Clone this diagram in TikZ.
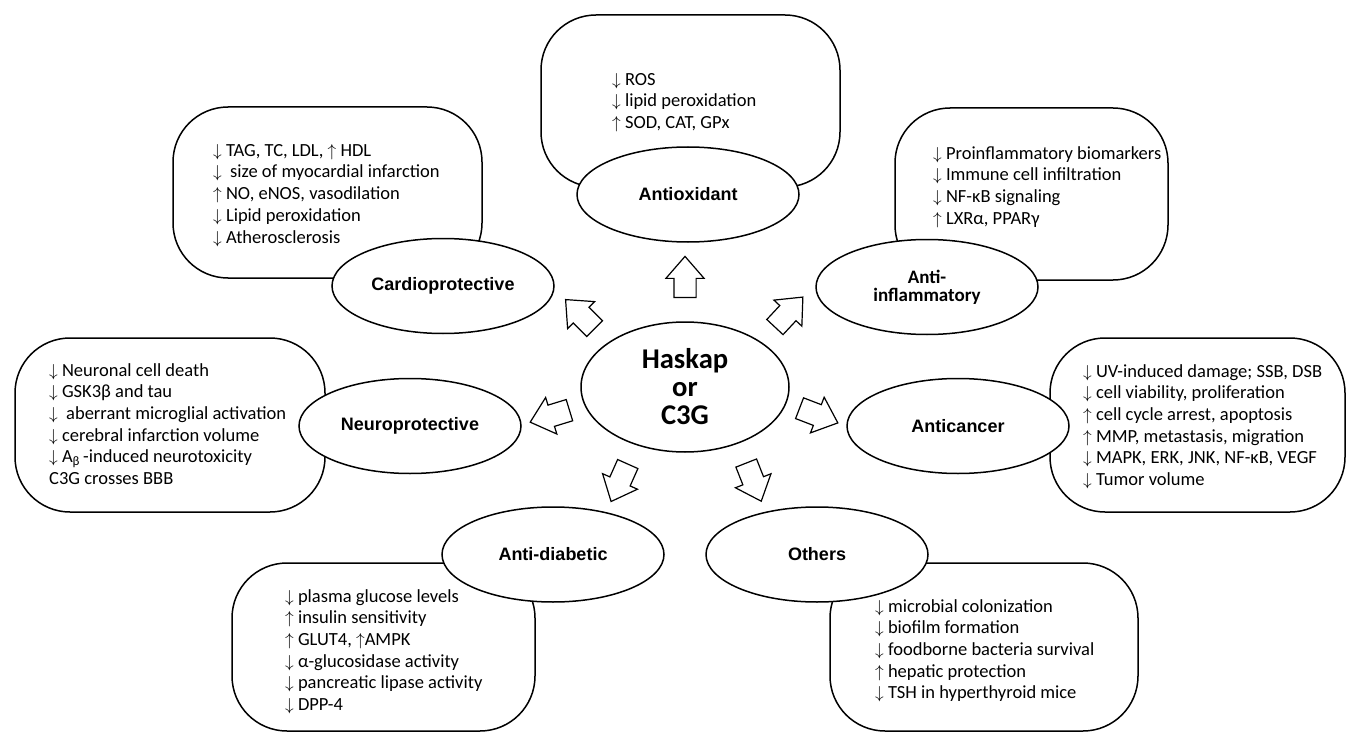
\documentclass[tikz,border=0pt]{standalone}
\usepackage{fontspec}
\setmainfont{Carlito}
\newfontfamily\labelfont{Liberation Sans}
\usetikzlibrary{shapes.geometric,shapes.arrows}
\newcommand\dn{$\downarrow$}
\newcommand\upa{$\uparrow$}
\begin{document}
\begin{tikzpicture}[x=1pt,y=-1pt,
 boxstyle/.style={draw, line width=1.5pt, rounded corners=55pt, inner sep=0pt},
 ellstyle/.style={ellipse, draw, fill=white, line width=1.5pt, inner sep=0pt, minimum width=222pt, minimum height=95pt, font=\labelfont\bfseries\fontsize{18}{20}\selectfont, align=center},
 txtstyle/.style={align=left, anchor=north west, inner sep=0pt, font=\fontsize{18.5}{21.7}\selectfont},
 barrow/.style={single arrow, draw, line width=1.2pt, fill=white, minimum height=41pt, minimum width=37pt, single arrow head extend=8pt, single arrow tip angle=82, inner xsep=0pt, inner ysep=10.5pt, anchor=tail}]
\useasboundingbox (0,0) rectangle (1347,733);
% boxes
\node[boxstyle, minimum width=309pt, minimum height=171pt] (cardiobox) at (327.5,192.5) {};
\node[boxstyle, minimum width=299pt, minimum height=172pt] (antioxbox) at (690.5,101) {};
\node[boxstyle, minimum width=273pt, minimum height=172pt] (inflambox) at (1031.5,194) {};
\node[boxstyle, minimum width=310pt, minimum height=174pt] (neurobox) at (170,425) {};
\node[boxstyle, minimum width=295pt, minimum height=174pt] (cancerbox) at (1197.5,425) {};
\node[boxstyle, minimum width=303pt, minimum height=168pt] (diabbox) at (383.5,647) {};
\node[boxstyle, minimum width=308pt, minimum height=168pt] (othersbox) at (984,647) {};
% ellipses
\node[ellstyle] (cardio) at (443,286) {Cardioprotective};
\node[ellstyle] (antiox) at (688,194.5) {Antioxidant};
\node[ellstyle, font=\bfseries\fontsize{19}{18}\selectfont] (inflam) at (927,287) {Anti-\\inflammatory};
\node[ellstyle] (neuro) at (410,426) {Neuroprotective};
\node[ellstyle] (cancer) at (958,426) {Anticancer};
\node[ellstyle] (diab) at (553,554.5) {Anti-diabetic};
\node[ellstyle] (others) at (817,554.5) {Others};
\node[ellstyle, minimum width=208pt, minimum height=130pt, font=\bfseries\fontsize{28.6}{28}\selectfont] (haskap) at (685,387) {Haskap\\or\\C3G};
% arrows
\node[barrow, rotate=90] (a1) at (685,298) {};
\node[barrow, rotate=135] (a2) at (595,329) {};
\node[barrow, rotate=47] (a3) at (774.5,327.5) {};
\node[barrow, rotate=197] (a4) at (570,410) {};
\node[barrow, rotate=-21] (a5) at (799,408) {};
\node[barrow, rotate=-114] (a6) at (628,463.5) {};
\node[barrow, rotate=-68.5] (a7) at (746,462.5) {};
% texts
\node[txtstyle] (cardiotxt) at (213,144) {\dn{} TAG, TC, LDL, \upa{} HDL\\ \dn\ \ size of myocardial infarction\\ \upa{} NO, eNOS, vasodilation\\ \dn{} Lipid peroxidation\\ \dn{} Atherosclerosis};
\node[txtstyle] (antioxtxt) at (612,73) {\dn{} ROS\\ \dn{} lipid peroxidation\\ \upa{} SOD, CAT, GPx};
\node[txtstyle] (inflamtxt) at (933,146) {\dn{} Proinflammatory biomarkers\\ \dn{} Immune cell infiltration\\ \dn{} NF-κB signaling\\ \upa{} LXRα, PPARγ};
\node[txtstyle] (neurotxt) at (49,363) {\dn{} Neuronal cell death\\ \dn{} GSK3β and tau\\ \dn\ \ aberrant microglial activation\\ \dn{} cerebral infarction volume\\ \dn{} A\textsubscript{β}\,-induced neurotoxicity\\ C3G crosses BBB};
\node[txtstyle] (cancertxt) at (1083,364) {\dn{} UV-induced damage; SSB, DSB\\ \dn{} cell viability, proliferation\\ \upa{} cell cycle arrest, apoptosis\\ \upa{} MMP, metastasis, migration\\ \dn{} MAPK, ERK, JNK, NF-κB, VEGF\\ \dn{} Tumor volume};
\node[txtstyle] (diabtxt) at (285,589) {\dn{} plasma glucose levels\\ \upa{} insulin sensitivity\\ \upa{} GLUT4, \upa{}AMPK\\ \dn{} α-glucosidase activity\\ \dn{} pancreatic lipase activity\\ \dn{} DPP-4};
\node[txtstyle] (otherstxt) at (875,599) {\dn{} microbial colonization\\ \dn{} biofilm formation\\ \dn{} foodborne bacteria survival\\ \upa{} hepatic protection\\ \dn{} TSH in hyperthyroid mice};
\end{tikzpicture}
\end{document}
